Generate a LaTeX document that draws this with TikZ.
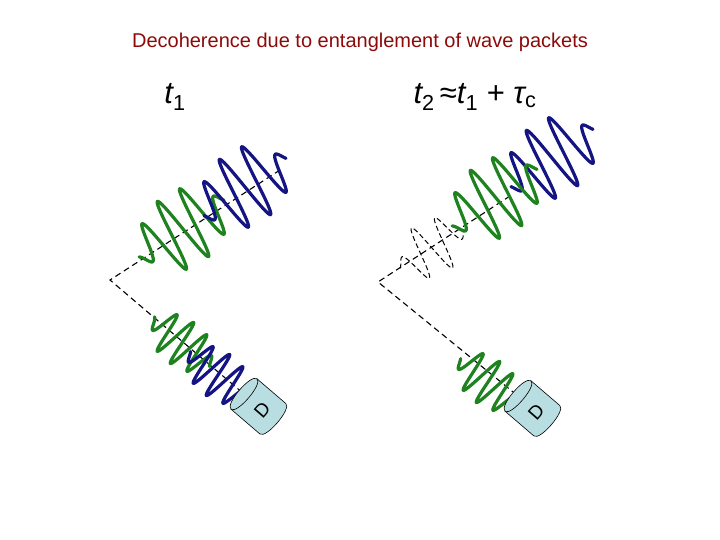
\documentclass[tikz,border=0pt]{standalone}
\usepackage{fontspec}
\setmainfont{Liberation Sans}
\begin{document}
\begin{tikzpicture}[x=1pt,y=-1pt,
  ray/.style={black,line width=1.1pt,dash pattern=on 6pt off 4pt},
  bwave/.style={draw={rgb,255:red,20;green,20;blue,130},line width=3.2pt,line cap=round},
  gwave/.style={draw={rgb,255:red,30;green,130;blue,30},line width=3.2pt,line cap=round},
  ghost/.style={black,line width=1pt,dash pattern=on 5pt off 3pt},
  detfill/.style={fill={rgb,255:red,185;green,222;blue,226},draw=black,line width=0.6pt}]
\useasboundingbox (0,0) rectangle (720,540);
\node[text={rgb,255:red,140;green,10;blue,10}] (title) at (360,42) {\fontsize{20}{24}\selectfont Decoherence due to entanglement of wave packets};
\node (ta) at (175,97) {\fontsize{31}{34}\selectfont\itshape t\textsubscript{\upshape 1}};
\node (tb) at (475,97) {\fontsize{31}{34}\selectfont\itshape t\textsubscript{\upshape 2}\upshape\,≈\itshape t\textsubscript{\upshape 1}\upshape\ + \itshape τ\textsubscript{\upshape c}};
% left
\coordinate (c1) at (110,280);
\coordinate (u1) at (280,170);
\coordinate (l1) at (244,394);
\draw[ray] (u1) -- (c1) -- (l1);
\draw[gwave,shift={(183,229)},rotate=33] plot[domain=-52:50,samples=200,smooth] (\x,{37*exp(-(\x/42)^4)*sin(\x*14)});
\draw[bwave,shift={(245,187)},rotate=33] plot[domain=-50:50,samples=200,smooth] (\x,{37*exp(-(\x/42)^4)*sin(\x*14)});
\draw[gwave,shift={(182,343)},rotate=-40.6] plot[domain=-38:36,samples=200,smooth] (\x,{23*exp(-(\x/32)^4)*sin(\x*20)});
\draw[bwave,shift={(218,375)},rotate=-40.6] plot[domain=-36:36,samples=200,smooth] (\x,{23*exp(-(\x/32)^4)*sin(\x*20)});
\begin{scope}[shift={(l1)},rotate=-40.6]
  \path[detfill] (0,-20) -- (38,-20) .. controls (46,-20) and (46,20) .. (38,20) -- (0,20) -- cycle;
  \path[detfill] (0,-20) .. controls (8,-20) and (8,20) .. (0,20) .. controls (-8,20) and (-8,-20) .. (0,-20) -- cycle;
  \node[rotate=49] (d1) at (24,0) {\rmfamily\fontsize{19}{19}\selectfont D};
\end{scope}
% right
\coordinate (c2) at (378,282);
\coordinate (u2) at (510,196);
\coordinate (l2) at (518,396);
\draw[ray] (u2) -- (c2) -- (l2);
\draw[ghost,shift={(432,248)},rotate=33] plot[domain=-38:36,samples=150,smooth] (\x,{28*exp(-(\x/30)^4)*sin(\x*14)});
\draw[bwave,shift={(552,158)},rotate=33] plot[domain=-50:50,samples=200,smooth] (\x,{37*exp(-(\x/42)^4)*sin(\x*14)});
\draw[gwave,shift={(496,198)},rotate=33] plot[domain=-52:50,samples=200,smooth] (\x,{37*exp(-(\x/42)^4)*sin(\x*14)});
\draw[gwave,shift={(488,382)},rotate=-40.6] plot[domain=-36:36,samples=200,smooth] (\x,{23*exp(-(\x/32)^4)*sin(\x*20)});
\begin{scope}[shift={(l2)},rotate=-40.6]
  \path[detfill] (0,-20) -- (38,-20) .. controls (46,-20) and (46,20) .. (38,20) -- (0,20) -- cycle;
  \path[detfill] (0,-20) .. controls (8,-20) and (8,20) .. (0,20) .. controls (-8,20) and (-8,-20) .. (0,-20) -- cycle;
  \node[rotate=49] (d2) at (24,0) {\rmfamily\fontsize{19}{19}\selectfont D};
\end{scope}
\end{tikzpicture}
\end{document}
